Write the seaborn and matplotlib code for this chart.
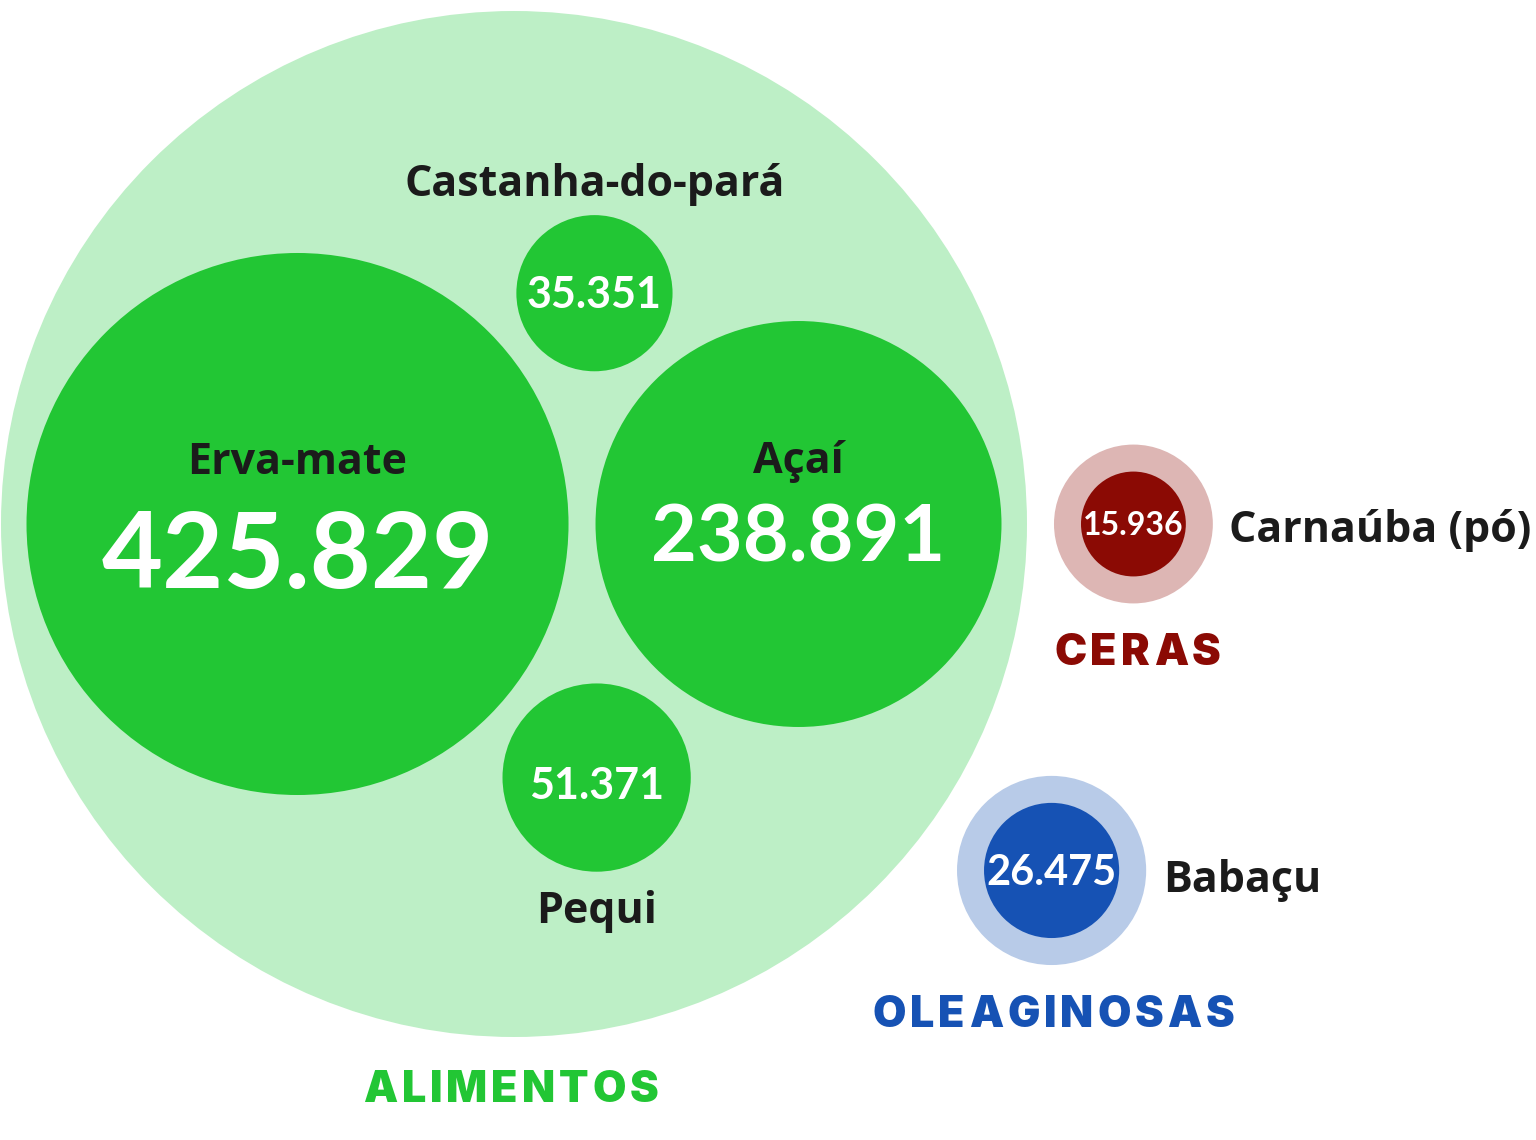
import numpy as np
import pandas as pd
import seaborn as sns
import matplotlib
matplotlib.use("Agg")
import matplotlib.pyplot as plt
from matplotlib.patches import Circle
from matplotlib.font_manager import FontProperties, fontManager

# ---------------- data ----------------
items = ["Erva-mate", "Açaí", "Castanha-do-pará", "Pequi", "Carnaúba (pó)", "Babaçu"]
values = [425829, 238891, 35351, 51371, 15936, 26475]
groups = ["ALIMENTOS", "ALIMENTOS", "ALIMENTOS", "ALIMENTOS", "CERAS", "OLEAGINOSAS"]
value_labels = ["425.829", "238.891", "35.351", "51.371", "15.936", "26.475"]
group_names = ["ALIMENTOS", "CERAS", "OLEAGINOSAS"]

df = pd.DataFrame({"item": items, "value": values, "group": groups, "label": value_labels})

# ---------------- style ----------------
sns.set_theme(style="white")
plt.rcParams["font.family"] = ["Lato", "DejaVu Sans"]

W, H, DPI = 1536, 1140, 100
SCALE = 0.4153          # px per sqrt(unit)
PAD = 27                # packing padding (px)
DARK = "#1b1b1b"
inner_col = {"ALIMENTOS": "#22c634", "CERAS": "#8b0a04", "OLEAGINOSAS": "#1652b4"}
outer_col = {"ALIMENTOS": "#bdefc6", "CERAS": "#ddb6b4", "OLEAGINOSAS": "#b8cbe8"}

name_fp = FontProperties(family=["Open Sans", "DejaVu Sans"], weight="bold", size=31)
black_file = [f.fname for f in fontManager.ttflist
              if f.fname.endswith("Inter-Black.otf")]
if black_file:
    title_fp = FontProperties(fname=black_file[0], size=31)
else:
    title_fp = FontProperties(family=["Inter", "DejaVu Sans"], weight="black", size=31)

df["r"] = SCALE * np.sqrt(df["value"])

fig = plt.figure(figsize=(W / DPI, H / DPI), dpi=DPI)
ax = fig.add_axes([0, 0, 1, 1])
ax.set_xlim(0, W)
ax.set_ylim(H, 0)
ax.set_aspect("equal")
ax.axis("off")

# ---------------- layout (computed pack) ----------------
r = dict(zip(df["item"], df["r"]))
G = np.array([514.0, 524.0])  # anchor of the main group
span = 2 * r["Erva-mate"] + PAD + 2 * r["Açaí"]
left = G[0] - span / 2
pos = {}
pos["Erva-mate"] = np.array([left + r["Erva-mate"], G[1]])
pos["Açaí"] = np.array([left + 2 * r["Erva-mate"] + PAD + r["Açaí"], G[1]])


def tangent(c1, r1, c2, r2, rr, sign):
    d1, d2 = r1 + rr + PAD, r2 + rr + PAD
    d = np.linalg.norm(c2 - c1)
    a = (d1 ** 2 - d2 ** 2 + d ** 2) / (2 * d)
    h = np.sqrt(max(d1 ** 2 - a ** 2, 0))
    u = (c2 - c1) / d
    p = c1 + a * u
    return p + sign * h * np.array([-u[1], u[0]])


pos["Castanha-do-pará"] = tangent(pos["Erva-mate"], r["Erva-mate"], pos["Açaí"], r["Açaí"], r["Castanha-do-pará"], -1)
pos["Pequi"] = tangent(pos["Erva-mate"], r["Erva-mate"], pos["Açaí"], r["Açaí"], r["Pequi"], 1)
R_alim = span / 2 + PAD - 1.5

R_cer = r["Carnaúba (pó)"] + PAD
C_cer = G + np.array([R_alim + PAD + R_cer, 0])
pos["Carnaúba (pó)"] = C_cer
R_ole = r["Babaçu"] + PAD
ang = np.deg2rad(32.8)
C_ole = G + (R_alim + PAD + 5 + R_ole) * np.array([np.cos(ang), np.sin(ang)])
pos["Babaçu"] = C_ole

# group circles
for c, rad, g in [(G, R_alim, "ALIMENTOS"), (C_cer, R_cer, "CERAS"), (C_ole, R_ole, "OLEAGINOSAS")]:
    ax.add_patch(Circle(c, rad, facecolor=outer_col[g], edgecolor="none", zorder=1))

# item circles
for _, row in df.iterrows():
    ax.add_patch(Circle(pos[row["item"]], row["r"], facecolor=inner_col[row["group"]],
                        edgecolor="none", zorder=2))

fig.canvas.draw()
renderer = fig.canvas.get_renderer()


def num(x, y, s, size):
    ax.text(x, y, s, fontsize=size, color="white", ha="center", va="baseline",
            fontweight="bold", family=["Lato", "DejaVu Sans"], zorder=3)


def name(x, y, s, ha="center"):
    ax.text(x, y, s, fontproperties=name_fp, color=DARK, ha=ha, va="baseline", zorder=3)


def spaced(cx, y, s, color, spacing):
    widths = [renderer.get_text_width_height_descent(s[:i], title_fp, ismath=False)[0] if i else 0.0
              for i in range(len(s) + 1)]
    total = widths[-1] + spacing * (len(s) - 1)
    x0 = cx - total / 2
    for i, ch in enumerate(s):
        ax.text(x0 + widths[i] + spacing * i, y, ch, fontproperties=title_fp, color=color,
                ha="left", va="baseline", zorder=3)


# labels
e, a = pos["Erva-mate"], pos["Açaí"]
name(e[0], e[1] - 50, "Erva-mate")
num(e[0], e[1] + 64, value_labels[0], 76)
name(a[0], a[1] - 51, "Açaí")
num(a[0], a[1] + 38, value_labels[1], 57)

c = pos["Castanha-do-pará"]
name(c[0], c[1] - r["Castanha-do-pará"] - 19, "Castanha-do-pará")
num(c[0], c[1] + 15, value_labels[2], 31)

p = pos["Pequi"]
name(p[0], p[1] + r["Pequi"] + 51, "Pequi")
num(p[0], p[1] + 21, value_labels[3], 31)

k = pos["Carnaúba (pó)"]
num(k[0], k[1] + 11, value_labels[4], 23)
name(k[0] + 96, k[1] + 18, "Carnaúba (pó)", ha="left")

b = pos["Babaçu"]
num(b[0], b[1] + 15, value_labels[5], 30)
name(b[0] + 112, b[1] + 22, "Babaçu", ha="left")

spaced(G[0] - 3, 1102, group_names[0], inner_col["ALIMENTOS"], 4)
spaced(C_cer[0] + 4, 665, group_names[1], inner_col["CERAS"], 4)
spaced(C_ole[0] + 2, 1027, group_names[2], inner_col["OLEAGINOSAS"], 4)

fig.savefig("out.png", dpi=DPI, facecolor="white")
